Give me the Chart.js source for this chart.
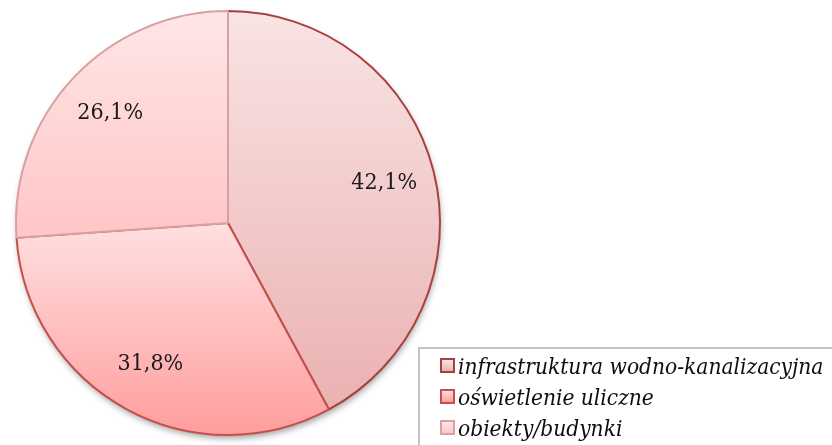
<!DOCTYPE html>
<html>
<head>
<meta charset="utf-8">
<script src="https://cdn.jsdelivr.net/npm/chart.js@4/dist/chart.umd.min.js"></script>
<style>
  html, body { margin: 0; padding: 0; background: #fff; }
  #wrap { position: relative; width: 832px; height: 445px; overflow: hidden; }
  #legend {
    position: absolute; left: 418px; top: 347px; width: 430px; height: 110px;
    border: 2px solid #c4c4c4; box-sizing: border-box;
    font-family: "DejaVu Serif Condensed", "DejaVu Serif", serif; font-style: italic; font-size: 22.5px; color: #0d0d0d;
    padding: 1px 0 0 20px;
  }
  .item { display: flex; align-items: center; height: 31px; white-space: nowrap; }
  .sw { width: 11px; height: 11px; border: 2px solid; margin-right: 3px; box-sizing: content-box; }
</style>
</head>
<body>
<div id="wrap">
  <canvas id="pie" width="832" height="445"></canvas>
  <div id="legend"></div>
</div>
<script>
const categories = ['infrastruktura wodno-kanalizacyjna', 'oświetlenie uliczne', 'obiekty/budynki'];
const shares = [42.1, 31.8, 26.1];

// each slice: light colour at its top, darker at its bottom, plus outline
const topColors = ['#f9e4e4', '#ffe0e0', '#ffe6e6'];
const bottomColors = ['#ebb1b1', '#ff9d9d', '#ffc6c6'];
const borderColors = ['#a8403e', '#c4504d', '#d8a0a0'];

// vertical extent of slice i, so its gradient covers only that slice
function sliceExtent(chart, i) {
  const a = chart.chartArea;
  const cx = (a.left + a.right) / 2, cy = (a.top + a.bottom) / 2;
  const r = Math.min(a.right - a.left, a.bottom - a.top) / 2;
  const total = shares.reduce((s, v) => s + v, 0);
  let start = -Math.PI / 2;
  for (let k = 0; k < i; k++) start += shares[k] / total * Math.PI * 2;
  const end = start + shares[i] / total * Math.PI * 2;
  const ys = [cy];
  for (let t = start; t <= end; t += 0.01) ys.push(cy + r * Math.sin(t));
  ys.push(cy + r * Math.sin(end));
  return [Math.min(...ys), Math.max(...ys)];
}

function sliceFill(ctx) {
  const chart = ctx.chart;
  const i = ctx.dataIndex;
  if (!chart.chartArea) return topColors[i];
  const [y0, y1] = sliceExtent(chart, i);
  const g = chart.ctx.createLinearGradient(0, y0, 0, y1);
  g.addColorStop(0, topColors[i]);
  g.addColorStop(1, bottomColors[i]);
  return g;
}

// soft drop shadow under the whole pie
const pieShadow = {
  id: 'pieShadow',
  beforeDatasetsDraw(chart) {
    const arc = chart.getDatasetMeta(0).data[0];
    if (!arc) return;
    const c = chart.ctx;
    c.save();
    c.shadowColor = 'rgba(0,0,0,0.4)';
    c.shadowBlur = 7;
    c.shadowOffsetX = 1;
    c.shadowOffsetY = 4;
    c.fillStyle = '#fff';
    c.beginPath();
    c.arc(arc.x, arc.y, arc.outerRadius - 1, 0, Math.PI * 2);
    c.fill();
    c.restore();
  }
};

const valueLabels = {
  id: 'valueLabels',
  afterDatasetsDraw(chart) {
    const c = chart.ctx;
    c.save();
    c.font = '23px "DejaVu Serif Condensed", "DejaVu Serif", serif';
    c.fillStyle = '#1a1a1a';
    c.textAlign = 'center';
    c.textBaseline = 'middle';
    chart.getDatasetMeta(0).data.forEach((arc, i) => {
      const mid = (arc.startAngle + arc.endAngle) / 2;
      const r = arc.outerRadius * 0.76;
      const txt = shares[i].toFixed(1).replace('.', ',') + '%';
      c.fillText(txt, arc.x + r * Math.cos(mid), arc.y + r * Math.sin(mid));
    });
    c.restore();
  }
};

new Chart(document.getElementById('pie'), {
  type: 'pie',
  data: {
    labels: categories,
    datasets: [{
      data: shares,
      backgroundColor: sliceFill,
      borderColor: borderColors,
      borderWidth: 2,
      borderAlign: 'center'
    }]
  },
  options: {
    responsive: false,
    animation: false,
    events: [],
    layout: { padding: { left: 15, right: 391, top: 10, bottom: 9 } },
    plugins: { legend: { display: false }, tooltip: { enabled: false } }
  },
  plugins: [pieShadow, valueLabels]
});

// legend swatches use the same colours as the slices
const legend = document.getElementById('legend');
categories.forEach((name, i) => {
  const row = document.createElement('div');
  row.className = 'item';
  const sw = document.createElement('span');
  sw.className = 'sw';
  sw.style.borderColor = borderColors[i];
  sw.style.background = `linear-gradient(${topColors[i]}, ${bottomColors[i]})`;
  const label = document.createElement('span');
  label.textContent = name;
  row.appendChild(sw);
  row.appendChild(label);
  legend.appendChild(row);
});
</script>
</body>
</html>
